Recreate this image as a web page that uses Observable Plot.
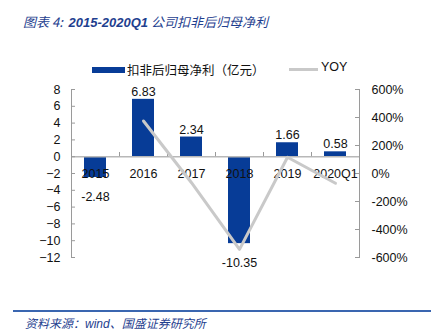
<!DOCTYPE html>
<html>
<head>
<meta charset="utf-8">
<script src="https://cdn.jsdelivr.net/npm/d3@7"></script>
<script src="https://cdn.jsdelivr.net/npm/@observablehq/plot@0.6"></script>
<style>
  body { margin: 0; background: #fff; }
  #wrap { position: relative; width: 444px; height: 332px; overflow: hidden; font-family: "Liberation Sans", Arial, sans-serif; }
  #wrap svg { position: absolute; left: 0; top: 0; }
  .title { position: absolute; left: 23px; top: 12px; font-size: 13px; font-style: italic; color: #1f3f8f; white-space: nowrap; font-family: "Noto Sans CJK SC", "Liberation Sans", sans-serif; }
  .title b { font-family: "Liberation Sans", Arial, sans-serif; font-weight: bold; }
  .legend { position: absolute; top: 60px; left: 92px; font-size: 12.5px; color: #111; white-space: nowrap; font-family: "Noto Sans CJK SC", sans-serif; }
  .legend span { position: absolute; }
  .caption-line { position: absolute; left: 13px; top: 310px; width: 418px; height: 2px; background: #3a66b0; }
  .caption { position: absolute; left: 25px; top: 314px; font-size: 12px; font-style: italic; color: #1f3f8f; white-space: nowrap; font-family: "Noto Sans CJK SC", sans-serif; }
</style>
</head>
<body>
<div id="wrap">
  <div class="title">图表 4:&nbsp;&nbsp;<b>2015-2020Q1</b> 公司扣非后归母净利</div>
  <div class="legend" id="legend"></div>
  <div class="caption-line"></div>
  <div class="caption">资料来源：<span style="font-family:'Liberation Sans',Arial,sans-serif">wind</span>、国盛证券研究所</div>
</div>
<script>
const categories = ["2015", "2016", "2017", "2018", "2019", "2020Q1"];
const profit = [-2.48, 6.83, 2.34, -10.35, 1.66, 0.58];
const yoy = [null, 375, -66, -542, 116, -70];
const leftTicks = [8, 6, 4, 2, 0, -2, -4, -6, -8, -10, -12];
const yoyTicks = [600, 400, 200, 0, -200, -400, -600];
const seriesNames = ["扣非后归母净利（亿元）", "YOY"];

const barColor = "#073c97";
const lineColor = "#c9c9c9";
const axisColor = "#9a9a9a";

// map YOY (%) onto left axis units: 600% -> 8, -600% -> -12
const toLeft = v => -2 + v / 60;
const fromLeft = d => Math.round((d + 2) * 60);

const data = categories.map((c, i) => ({cat: c, value: profit[i], yoy: yoy[i]}));
const W = 444, H = 332, mL = 71, mR = 85, mT = 89, mB = 75;
const step = (W - mL - mR) / categories.length;

const chart = Plot.plot({
  width: W, height: H,
  marginLeft: mL, marginRight: mR, marginTop: mT, marginBottom: mB,
  style: {fontFamily: "'Liberation Sans', Arial, sans-serif", fontSize: "12.5px", color: "#111", background: "transparent"},
  x: {domain: categories, paddingInner: 0.55, paddingOuter: 0.275, axis: null},
  y: {domain: [-12, 8], axis: null},
  marks: [
    Plot.barY(data, {x: "cat", y: "value", fill: barColor}),
    Plot.ruleY([0], {stroke: "#b8b8b8", strokeWidth: 1.5}),
    Plot.ruleX(categories.slice(1), {x: d => d, y1: 0, y2: 0.5, dx: -step / 2, stroke: axisColor}),
    Plot.frame({anchor: "left", stroke: axisColor}),
    Plot.frame({anchor: "right", stroke: axisColor}),
    Plot.tickY(leftTicks, {y: d => d, insetRight: W - mL - mR - 4, stroke: axisColor}),
    Plot.tickY(yoyTicks.map(toLeft), {y: d => d, insetLeft: W - mL - mR - 4, stroke: axisColor}),
    Plot.axisY(leftTicks, {anchor: "left", label: null, tickSize: 0, tickPadding: 11, fontSize: 12.5}),
    Plot.axisY(yoyTicks.map(toLeft), {anchor: "right", label: null, tickSize: 0, tickPadding: 12, tickFormat: d => fromLeft(d) + "%", fontSize: 12.5}),
    Plot.text(data, {x: "cat", y: 0, dy: 17, text: "cat", fill: "#111"}),
    Plot.line(data.filter(d => d.yoy != null), {x: "cat", y: d => toLeft(d.yoy), stroke: lineColor, strokeWidth: 3}),
    Plot.text(data, {x: "cat", y: "value", text: d => d.value.toFixed(2), fill: "#111", lineAnchor: "middle"}),
  ]
});
document.getElementById("wrap").prepend(chart);

// shift value labels above/below bars
const labels = chart.querySelectorAll("g[aria-label='text']");
const valueLabels = labels[labels.length - 1];
valueLabels.querySelectorAll("text").forEach((t, i) => {
  t.setAttribute("dy", profit[i] >= 0 ? "-0.6em" : "1.55em");
});

const legend = document.getElementById("legend");
legend.innerHTML =
  `<span style="left:0;top:7px;width:33px;height:6px;background:${barColor}"></span>` +
  `<span style="left:35px;top:0">${seriesNames[0]}</span>` +
  `<span style="left:197px;top:8px;width:29px;height:3px;background:${lineColor}"></span>` +
  `<span style="left:229px;top:0;font-family:'Liberation Sans',Arial,sans-serif">${seriesNames[1]}</span>`;
</script>
</body>
</html>
